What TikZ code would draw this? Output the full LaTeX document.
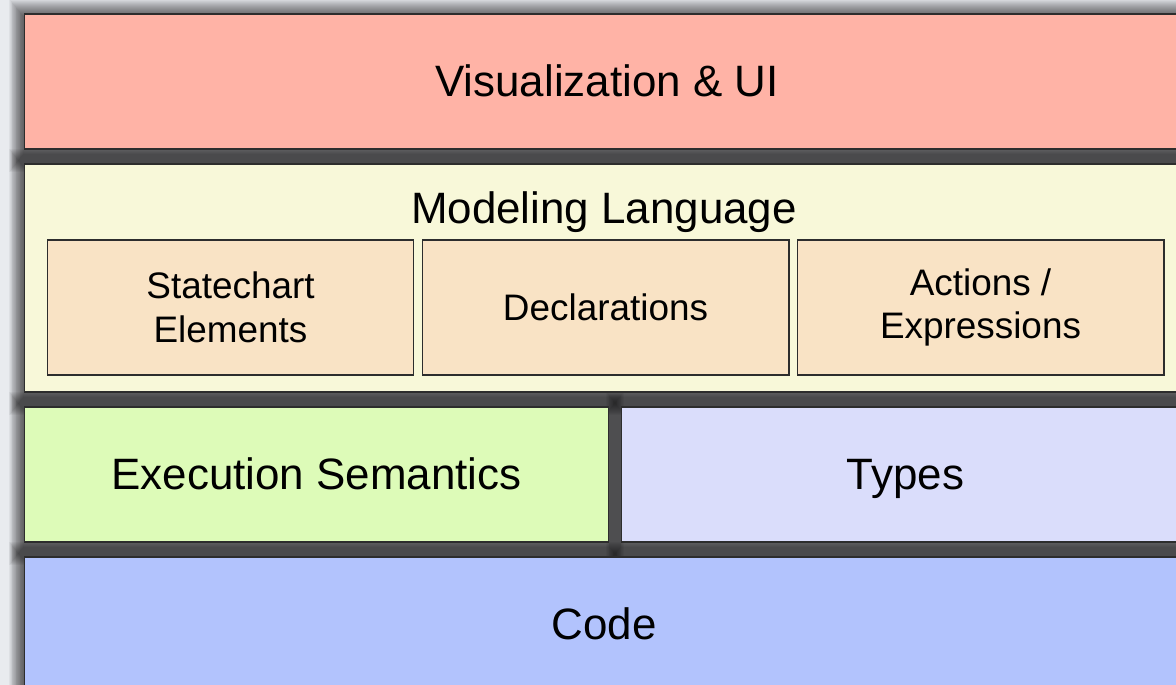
\documentclass[tikz,border=0pt]{standalone}
\usepackage{fontspec}
\setmainfont{Liberation Sans}
\usetikzlibrary{backgrounds}
\definecolor{bgray}{RGB}{233, 235, 239}
\definecolor{vizred}{RGB}{255, 179, 166}
\definecolor{modelyellow}{RGB}{248, 248, 217}
\definecolor{partorange}{RGB}{249, 227, 197}
\definecolor{execgreen}{RGB}{221, 251, 184}
\definecolor{typeslilac}{RGB}{218, 221, 251}
\definecolor{codeblue}{RGB}{178, 195, 253}
\definecolor{edgegray}{RGB}{45, 45, 45}

\begin{document}
\begin{tikzpicture}[
    x=0.02cm, y=-0.02cm,
    caption/.style={inner sep=0pt, text height=21pt, text depth=3.4pt, font=\fontsize{25}{30}\selectfont},
    layer/.style={rectangle, draw=edgegray, line width=0.6pt, align=center, caption},
    part/.style={rectangle, draw=edgegray, line width=0.6pt, fill=partorange, inner sep=0pt,
        minimum width=7.34cm, minimum height=2.7cm, align=center,
        font=\fontsize{21}{25}\selectfont},
    softshadow/.style={black, opacity=0.045}
]

\useasboundingbox (0,0) rectangle (1176,685);
\clip (0,0) rectangle (1176,685);

% Visualization layer
\node[layer, fill=vizred, minimum width=23.32cm, minimum height=2.7cm] (viz) at (607,81.5) {Visualization \& UI};

% Modeling language layer
\node[layer, fill=modelyellow, minimum width=23.32cm, minimum height=4.56cm] (model) at (607,278) {};
\node[caption] (modeltitle) at (604,208) {Modeling Language};
\node[part] (states) at (230.5,307.5) {Statechart\\Elements};
\node[part] (decls) at (605.5,307.5) {Declarations};
\node[part] (actions) at (980.5,307.5) {Actions /\\Expressions};

% Semantics and types
\node[layer, fill=execgreen, minimum width=11.7cm, minimum height=2.7cm] (exec) at (316.5,474.5) {Execution Semantics};
\node[layer, fill=typeslilac, minimum width=11.38cm, minimum height=2.7cm] (types) at (905.5,474.5) {Types};

% Code layer
\node[layer, fill=codeblue, minimum width=23.32cm, minimum height=2.86cm] (code) at (607,628.5) {};
\node[caption] (codetitle) at (604,624) {Code};

% Background and soft shadows
\begin{scope}[on background layer]
  \fill[bgray] (0,0) rectangle (1176,685);
  \foreach \n in {viz,model,exec,types,code}
    \foreach \r in {1,...,18}
      \fill[softshadow] ([shift={(-0.8*\r,4-\r)}]\n.north west) rectangle ([shift={(0.8*\r,4+\r)}]\n.south east);
\end{scope}

\end{tikzpicture}
\end{document}
